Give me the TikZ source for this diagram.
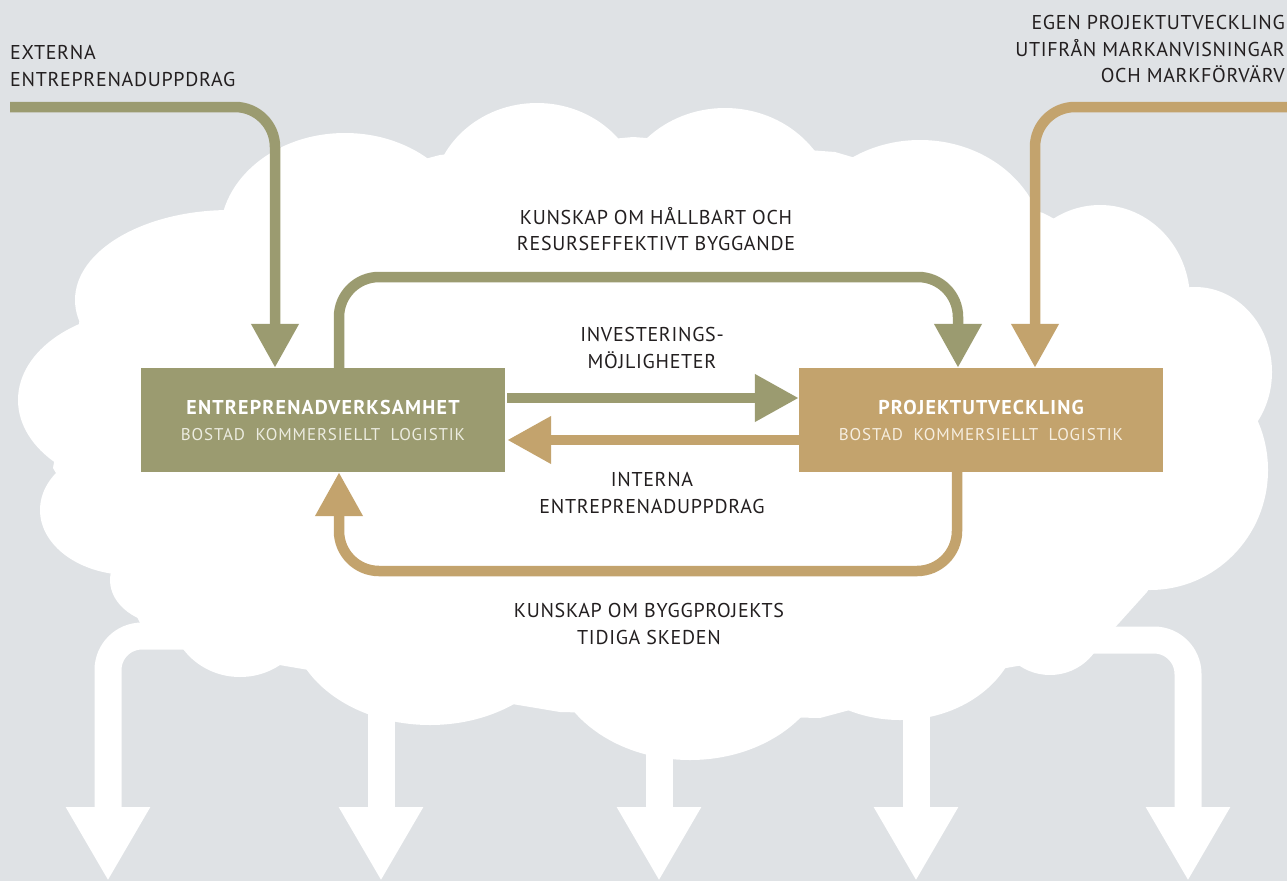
\documentclass[tikz,border=0pt]{standalone}
\usepackage{fontspec}
\setmainfont{PT Sans}
\newfontfamily\labelfont[LetterSpace=3.5]{PT Sans}
\newfontfamily\unitfont[LetterSpace=6]{PT Sans}
\newfontfamily\unitsubfont[LetterSpace=5]{PT Sans}
\usetikzlibrary{arrows.meta}

\definecolor{bgGrey}{HTML}{DFE2E5}
\definecolor{oliveBox}{HTML}{9B9B70}
\definecolor{tanBox}{HTML}{C3A36D}
\definecolor{labelInk}{HTML}{231F20}
\definecolor{oliveSub}{HTML}{ECECE0}
\definecolor{tanSub}{HTML}{F6EEE0}

\tikzset{
  olivearrow/.style={line width=10.5pt, color=oliveBox, rounded corners=40pt,
    -{Triangle[width=45pt,length=44pt]}},
  tanarrow/.style={line width=10.5pt, color=tanBox, rounded corners=40pt,
    -{Triangle[width=45pt,length=44pt]}},
  outarrow/.style={line width=27pt, color=white, rounded corners=34pt,
    -{Triangle[width=79pt,length=74pt]}},
  unitbox/.style={minimum width=364pt, minimum height=104pt, inner sep=0pt,
    align=center, text=white, font=\unitsubfont\fontsize{17}{26}\selectfont},
  flowlabel/.style={text=labelInk, inner sep=0pt, align=center,
    font=\labelfont\fontsize{20}{26.5}\selectfont}
}

\begin{document}
\begin{tikzpicture}[x=1pt, y=-1pt]
			%%%%% BACKGROUND %%%%%
			\fill[bgGrey] (0,0) rectangle (1287,881);
			\useasboundingbox (0,0) rectangle (1287,881);
			\clip (0,0) rectangle (1287,881);
			
			%%%%% CLOUD %%%%%
			\fill[white] (222,212) -- (440,155) -- (633,137) -- (835,152) -- (1043,213)
			  -- (1188,288) -- (1250,428) -- (1147,592) -- (1092,653) -- (1006,668)
			  -- (820,718) -- (560,712) -- (297,668) -- (180,648) -- (140,623)
			  -- (113,568) -- (53,468) -- (80,318) -- cycle;
			\foreach \cx/\cy/\rx/\ry in {345/235/125/102, 537/200/105/97, 725/210/110/102,
			    920/250/125/110, 1100/300/90/95, 1195/372/77/85, 1150/470/118/120,
			    1050/620/55/55, 900/620/120/100, 690/650/140/110, 430/620/140/105,
			    240/610/70/67, 170/580/60/45, 130/510/90/65, 150/400/132/90, 230/300/155/90}
			  \fill[white] (\cx,\cy) ellipse ({\rx pt} and {\ry pt});
			
			%%%%% OUTGOING ARROWS %%%%%
			\coordinate (out1a) at (200,636);
			\coordinate (out1b) at (108,881);
			\coordinate (out5a) at (1070,640);
			\coordinate (out5b) at (1188,881);
			\draw[outarrow] (out1a) -| (out1b);
			\draw[outarrow] (381,680) -- (381,881);
			\draw[outarrow] (659,700) -- (659,881);
			\draw[outarrow] (916,680) -- (916,881);
			\draw[outarrow] (out5a) -| (out5b);
			
			%%%%% UNITS %%%%%
			\node[unitbox, fill=oliveBox] (entr) at (323,420)
			  {{\unitfont\fontsize{20}{26}\selectfont\bfseries ENTREPRENADVERKSAMHET}\\
			   {\color{oliveSub}BOSTAD\hspace{0.3em} KOMMERSIELLT\hspace{0.3em} LOGISTIK}};
			\node[unitbox, fill=tanBox] (proj) at (981,420)
			  {{\unitfont\fontsize{20}{26}\selectfont\bfseries PROJEKTUTVECKLING}\\
			   {\color{tanSub}BOSTAD\hspace{0.3em} KOMMERSIELLT\hspace{0.3em} LOGISTIK}};
			
			%%%%% FLOWS %%%%%
			\coordinate (extL) at (10,107);
			\coordinate (extR) at (1300,107);
			\coordinate (olivetop) at (648,277);
			\coordinate (tanbot) at (648,571);
			
			\draw[olivearrow] (extL) -| ([xshift=-48pt]entr.north);
			\draw[tanarrow] (extR) -| ([xshift=54pt]proj.north);
			\draw[olivearrow] ([xshift=16pt]entr.north) |- (olivetop) -| ([xshift=-23pt]proj.north);
			\draw[tanarrow] ([xshift=-24pt]proj.south) |- (tanbot) -| ([xshift=16pt]entr.south);
			\draw[olivearrow] ([xshift=2pt,yshift=22pt]entr.east) -- ([yshift=22pt]proj.west);
			\draw[tanarrow] ([yshift=-20pt]proj.west) -- ([xshift=2pt,yshift=-20pt]entr.east);
			
			%%%%% LABELS %%%%%
			\node[flowlabel, align=left, anchor=west] (extern) at (10,66)
			  {EXTERNA\\ENTREPRENADUPPDRAG};
			\node[flowlabel, align=right, anchor=east] (egen) at (1285,49)
			  {EGEN PROJEKTUTVECKLING\\UTIFRÅN MARKANVISNINGAR\\OCH MARKFÖRVÄRV};
			\node[flowlabel] (hallbart) at (656,229) {KUNSKAP OM HÅLLBART OCH\\RESURSEFFEKTIVT BYGGANDE};
			\node[flowlabel] (invest) at (652,348) {INVESTERINGS-\\MÖJLIGHETER};
			\node[flowlabel] (interna) at (652,493) {INTERNA\\ENTREPRENADUPPDRAG};
			\node[flowlabel] (bygg) at (649,624) {KUNSKAP OM BYGGPROJEKTS\\TIDIGA SKEDEN};
\end{tikzpicture}
\end{document}
